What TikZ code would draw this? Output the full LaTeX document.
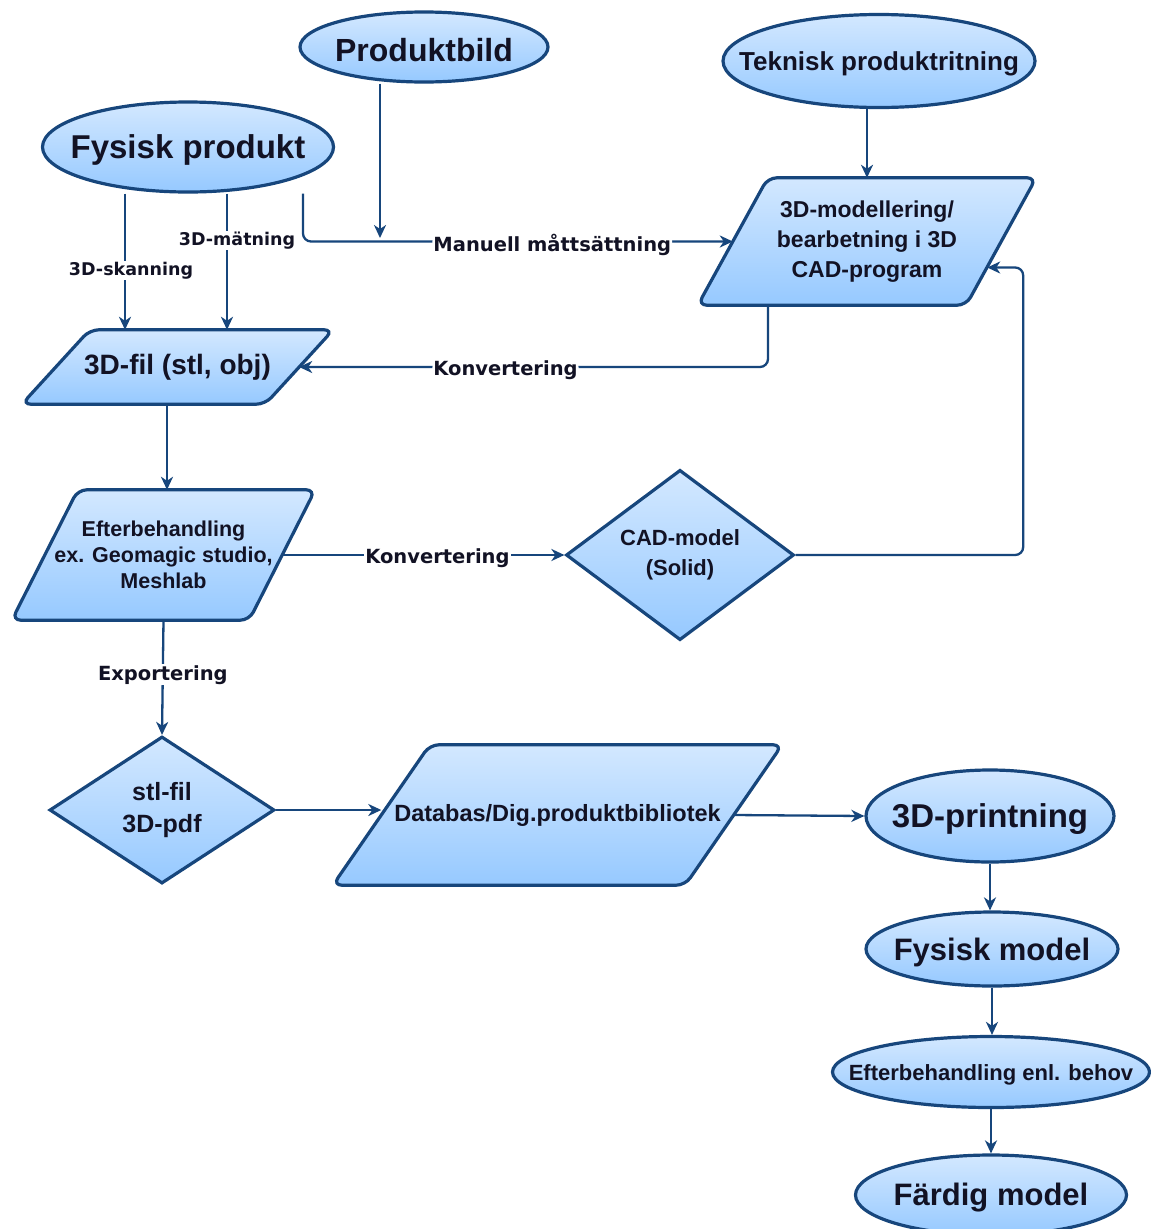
\documentclass[tikz,border=0pt]{standalone}
\usepackage{fontspec}
\setmainfont{Liberation Sans}
\newfontfamily\lblfont{DejaVu Sans}
\usetikzlibrary{shapes.geometric,arrows.meta,calc}
\pgfdeclarelayer{bg}
\pgfsetlayers{bg,main}
\definecolor{edgec}{HTML}{17467C}
\definecolor{ftop}{HTML}{D3E8FF}
\definecolor{fbot}{HTML}{96C9FF}
\definecolor{txt}{HTML}{121224}
\newcommand\fsz[2]{\fontsize{#1}{#2}\selectfont}
\newcommand\parashp[2]{\begin{pgfonlayer}{bg}\path[parashape] ($(#1.north west)+(#2,0)$) -- ($(#1.north east)+(#2,0)$) -- ($(#1.south east)+(-#2,0)$) -- ($(#1.south west)+(-#2,0)$) -- cycle;\end{pgfonlayer}}
\newcommand\zb[1]{\makebox[0pt]{\raisebox{-3pt}[\height][\depth]{#1}}}
\tikzset{
  shapebase/.style={draw=edgec, line width=3.2pt, top color=ftop, bottom color=fbot, text=txt, align=center, inner sep=0pt},
  term/.style={shapebase, ellipse},
  dec/.style={shapebase, diamond},
  parabox/.style={inner sep=0pt, text=txt, align=center},
  parashape/.style={draw=edgec, line width=3.2pt, top color=ftop, bottom color=fbot, rounded corners=9pt},
  conn/.style={draw=edgec, line width=2.3pt, -{Stealth[length=13pt,width=12pt,inset=4pt]}},
  elbl/.style={fill=white, inner sep=1pt, text=txt, yshift=-3pt, font=\lblfont\bfseries\fsz{19.5}{23}},
  elbls/.style={fill=white, inner sep=1pt, text=txt, yshift=-2pt, font=\lblfont\bfseries\fsz{17.5}{21}}
}
\begin{document}
\begin{tikzpicture}[x=1pt,y=-1pt]
\useasboundingbox (0,0) rectangle (1151,1229);
\begin{pgfonlayer}{bg}\fill[white] (0,0) rectangle (1151,1229);\end{pgfonlayer}

% ellipses
\node[term, minimum width=291pt, minimum height=90pt, font=\bfseries\fsz{33}{38}] (fp) at (188,147) {\zb{Fysisk produkt}};
\node[term, minimum width=248pt, minimum height=70pt, font=\bfseries\fsz{32}{37}] (pb) at (424,47) {\zb{Produktbild}};
\node[term, minimum width=312pt, minimum height=93pt, font=\bfseries\fsz{26}{30}] (tek) at (879,61) {\zb{Teknisk produktritning}};
\node[term, minimum width=248pt, minimum height=92pt, font=\bfseries\fsz{33}{38}] (pr) at (990,816) {\zb{3D-printning}};
\node[term, minimum width=252pt, minimum height=74pt, font=\bfseries\fsz{31}{36}] (fm) at (992,949) {\zb{Fysisk model}};
\node[term, minimum width=317pt, minimum height=71pt, font=\bfseries\fsz{22}{26}] (eb) at (991,1072) {\zb{Efterbehandling enl. behov}};
\node[term, minimum width=271pt, minimum height=80pt, font=\bfseries\fsz{31}{36}] (fd) at (991,1195) {\zb{Färdig model}};

% parallelograms
\node[parabox, minimum width=268pt, minimum height=127pt, font=\bfseries\fsz{23}{30}] (mod) at (867,241.5) {3D-modellering/\\bearbetning i 3D\\CAD-program};
\parashp{mod}{35}
\node[parabox, minimum width=243pt, minimum height=74pt, font=\bfseries\fsz{28}{33}] (fil) at (177.5,367) {3D-fil (stl, obj)};
\parashp{fil}{34}
\node[parabox, minimum width=237pt, minimum height=130pt, font=\bfseries\fsz{21.5}{26}] (eft) at (163.5,555) {Efterbehandling\\ex. Geomagic studio,\\Meshlab};
\parashp{eft}{33}
\node[parabox, minimum width=352pt, minimum height=140pt, font=\bfseries\fsz{23.5}{28}] (db) at (557.5,815) {Databas/Dig.produktbibliotek};
\parashp{db}{48.5}

% diamonds
\node[dec, minimum width=228pt, minimum height=149pt, font=\bfseries\fsz{22}{30}] (cad) at (680,555) {CAD-model\\(Solid)};
\node[dec, minimum width=225pt, minimum height=147pt, font=\bfseries\fsz{25}{32}] (stl) at (162,810) {stl-fil\\3D-pdf};

% helper coordinates
\coordinate (x125) at (125,0);
\coordinate (x227) at (227,0);
\coordinate (x303) at (303,0);
\coordinate (x380) at (380,0);
\coordinate (x768) at (768,0);
\coordinate (x167) at (167,0);
\coordinate (pbend) at (380,238);
\coordinate (modR) at ($(mod.east)+(-14,26)$);

% connectors
\draw[conn] (fp.south -| x125) -- (fil.north -| x125) node[elbls, pos=0.55, xshift=6pt] {3D-skanning};
\draw[conn] (fp.south -| x227) -- (fil.north -| x227) node[elbls, pos=0.33, xshift=10pt] {3D-mätning};
\draw[conn, rounded corners=8pt] (fp.south -| x303) |- (mod.west) node[elbl, pos=0.79] {Manuell måttsättning};
\draw[conn] (pb.south -| x380) -- (pbend);
\draw[conn] (tek.south -| mod.north) -- (mod.north);
\draw[conn, rounded corners=8pt] (mod.south -| x768) |- (fil.east) node[elbl, pos=0.78] {Konvertering};
\draw[conn] (fil.south -| x167) -- (eft.north -| x167);
\draw[conn] (eft.east) -- (cad.west) node[elbl, pos=0.55] {Konvertering};
\draw[conn, rounded corners=8pt] (cad.east) -| ($(modR)+(36,0)$) -- (modR);
\draw[conn] (eft.south) -- (stl.north) node[elbl, pos=0.45] {Exportering};
\draw[conn] (stl.east) -- (stl.east -| db.west);
\draw[conn] (db.east) -- (pr.west);
\draw[conn] (pr.south) -- (pr.south |- fm.north);
\draw[conn] (fm.south) -- (fm.south |- eb.north);
\draw[conn] (eb.south) -- (eb.south |- fd.north);
\end{tikzpicture}
\end{document}
